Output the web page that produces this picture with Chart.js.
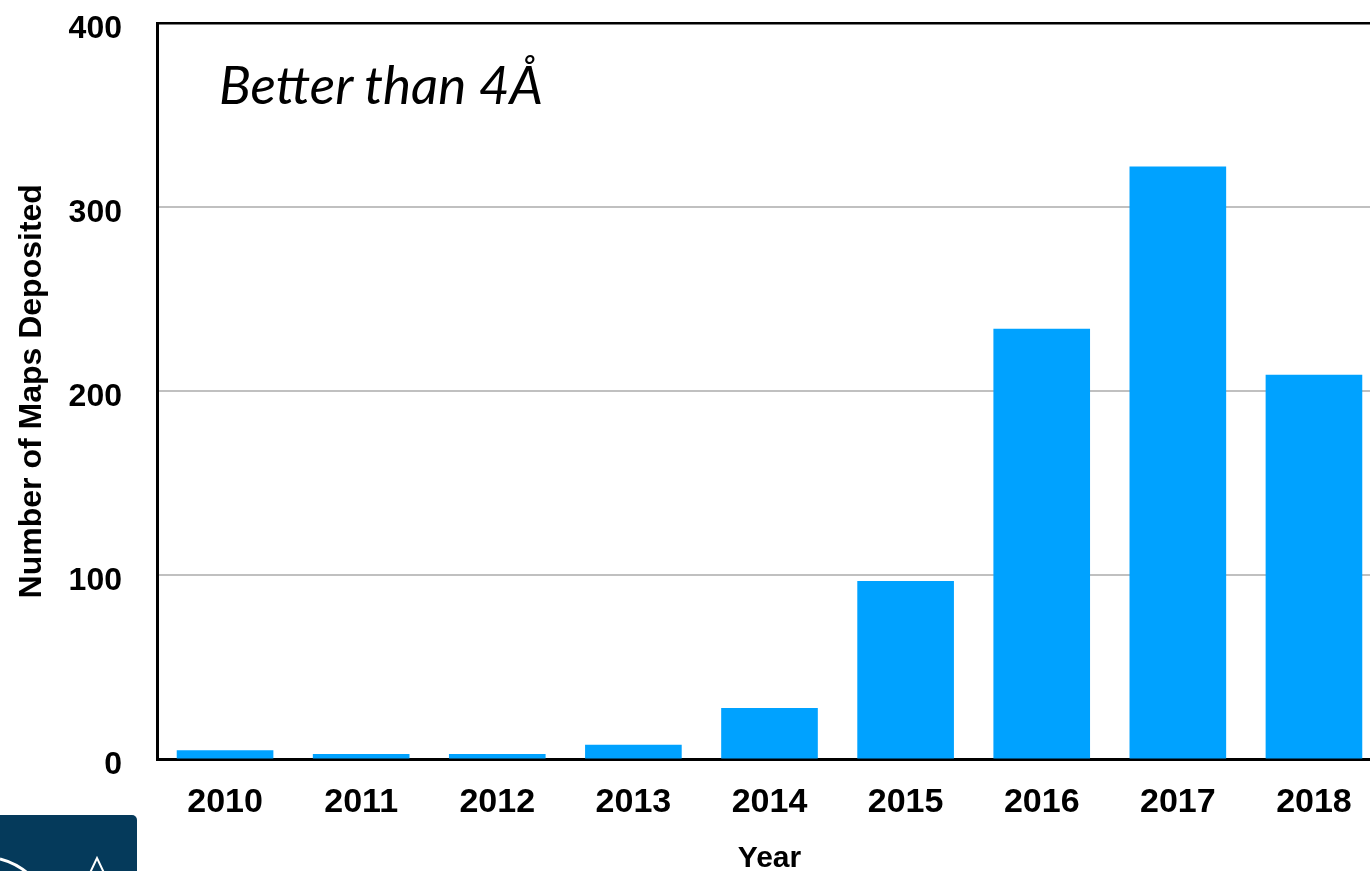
<!DOCTYPE html>
<html>
<head>
<meta charset="utf-8">
<script src="https://cdn.jsdelivr.net/npm/chart.js@4.4.1/dist/chart.umd.min.js"></script>
<style>
  html, body { margin: 0; padding: 0; background: #fff; overflow: hidden; }
  #wrap { position: relative; width: 1370px; height: 871px; overflow: hidden; }
  #maps-chart { position: absolute; left: 0; top: 0; }
  .note {
    position: absolute; left: 219px; top: 52px;
    font-family: Lato, "Open Sans", sans-serif; font-style: italic;
    font-size: 53px; color: #000; white-space: nowrap;
  }
  .logo { position: absolute; left: 0; top: 815px; }
</style>
</head>
<body>
<div id="wrap">
  <canvas id="maps-chart" width="1382" height="871"></canvas>
  <div class="note">Better than 4Å</div>
  <svg class="logo" width="140" height="60" viewBox="0 0 140 60">
    <rect x="-6" y="0" width="143" height="70" rx="5" fill="#053a5b"/>
    <path d="M0 44 Q16 48 30 60" stroke="#fff" stroke-width="3" fill="none"/>
    <path d="M89 60 L97 43 L105 60" stroke="#fff" stroke-width="2" fill="none"/>
  </svg>
</div>
<script>
const years = ['2010', '2011', '2012', '2013', '2014', '2015', '2016', '2017', '2018']
const maps_deposited = [5, 3, 3, 8, 28, 97, 234, 322, 209]
const y_ticks = [0, 100, 200, 300, 400]

const bar_color = '#00a2ff'
const font_family = '"Liberation Sans", Arial, sans-serif'

const grid_color = (ctx) => {
    let v = ctx.tick ? ctx.tick.value : null
    if (v === 400) return '#000'
    if (v === 0) return 'rgba(0,0,0,0)'
    return '#c0c0c0'
}

const grid_width = (ctx) => {
    let v = ctx.tick ? ctx.tick.value : null
    return v === 400 ? 2.5 : 2
}

const ctx = document.getElementById('maps-chart')

const chart = new Chart(ctx, {
    type: 'bar',
    data: {
        labels: years,
        datasets: [{
            data: maps_deposited,
            backgroundColor: bar_color,
            borderWidth: 0,
            categoryPercentage: 0.71,
            barPercentage: 1.0,
        }]
    },
    options: {
        responsive: false,
        animation: false,
        layout: { padding: { top: 23, right: 0, bottom: 0, left: 0 } },
        scales: {
            x: {
                z: 1,
                grid: { display: false, drawTicks: false },
                border: { display: true, color: '#000', width: 3 },
                ticks: { color: '#000', font: { family: font_family, weight: 'bold', size: 34 }, padding: 23, maxRotation: 0 },
                title: {
                    display: true,
                    text: 'Year',
                    color: '#000',
                    font: { family: font_family, weight: 'bold', size: 30, lineHeight: 1 },
                    padding: { top: 0, bottom: -3 },
                },
                afterFit: (scale) => { scale.height = 111.5 },
            },
            y: {
                min: 0,
                max: 400,
                afterBuildTicks: (scale) => { scale.ticks = y_ticks.map(v => ({ value: v })) },
                grid: { color: grid_color, lineWidth: grid_width, drawTicks: false },
                border: { display: true, color: '#000', width: 3 },
                ticks: { color: '#000', font: { family: font_family, weight: 'bold', size: 32 }, padding: 35, labelOffset: 6 },
                title: {
                    display: true,
                    text: 'Number of Maps Deposited',
                    color: '#000',
                    font: { family: font_family, weight: 'bold', size: 32, lineHeight: 1.2 },
                    padding: { top: 13, bottom: 0 },
                },
                afterFit: (scale) => {
                    // tick padding would otherwise push the plot top down
                    scale.width = 157
                    scale.paddingTop = 0
                    scale.paddingBottom = 0
                },
            }
        },
        plugins: {
            legend: { display: false },
            title: { display: false },
            tooltip: { enabled: false }
        }
    }
})
</script>
</body>
</html>
